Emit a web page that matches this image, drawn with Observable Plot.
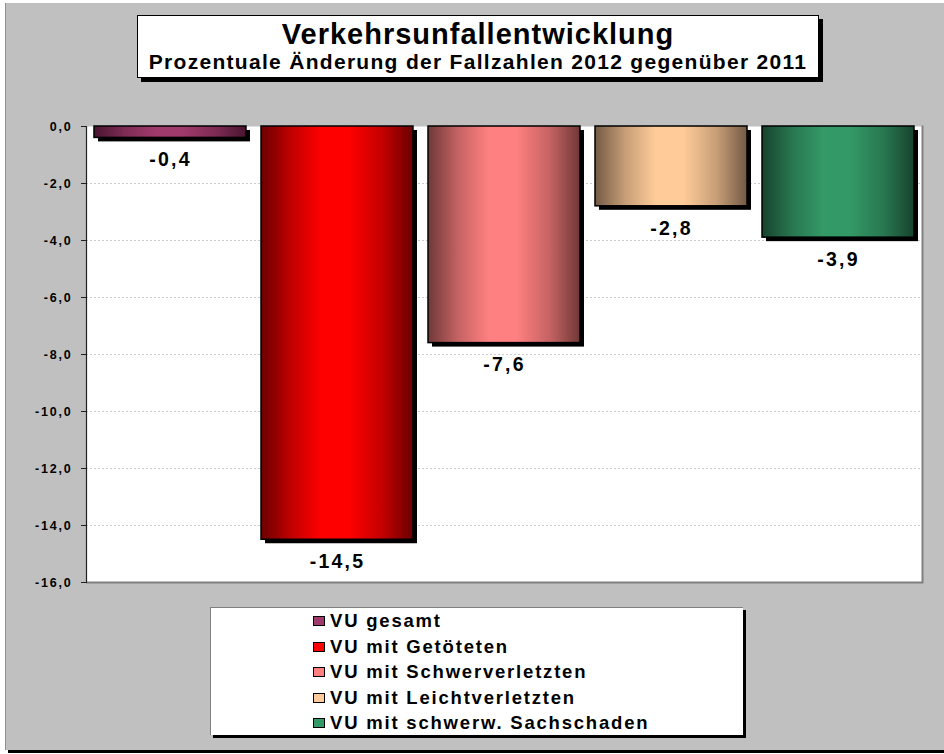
<!DOCTYPE html>
<html>
<head>
<meta charset="utf-8">
<script src="https://cdn.jsdelivr.net/npm/d3@7"></script>
<script src="https://cdn.jsdelivr.net/npm/@observablehq/plot@0.6"></script>
<style>
  html, body { margin: 0; padding: 0; background: #ffffff; }
  body { width: 944px; height: 754px; position: relative; overflow: hidden;
         font-family: Arial, "Liberation Sans", sans-serif; }
  #bg { position: absolute; left: 5px; top: 3px; width: 939px; height: 747px;
        background: #C0C0C0; border-left: 1px solid #909090; }
  #bottomline { position: absolute; left: 8px; top: 750px; width: 936px; height: 3px; background: #000; }
  #chart { position: absolute; left: 0; top: 0; }
  #titlebox { position: absolute; left: 137px; top: 15px; width: 680px; height: 61px;
              background: #fff; border: 1px solid #000; box-shadow: 4px 4px 0 #000; }
  #title1 { position: absolute; left: 0; width: 100%; top: 2px; text-align: center;
            font-weight: bold; font-size: 29px; letter-spacing: 1px; color: #000; }
  #title2 { position: absolute; left: 0; width: 100%; top: 34px; text-align: center;
            font-weight: bold; font-size: 21px; letter-spacing: 1.3px; color: #000; }
  #legend { position: absolute; left: 210px; top: 607px; width: 532px; height: 127px;
            background: #fff; border-left: 1px solid #808080; border-top: 1px solid #808080;
            box-shadow: 3px 3px 0 #000; }
  .item { position: absolute; left: 102px; height: 22px; font-weight: bold; font-size: 18.5px;
          letter-spacing: 1.8px; color: #000; white-space: nowrap; line-height: 22px; }
  .sw { display: inline-block; width: 10px; height: 8px; border: 1px solid #000;
        margin-right: 5px; vertical-align: 1px; }
  g[aria-label="text"] text { letter-spacing: 2.2px; }
  g[aria-label="y-axis tick label"] text { letter-spacing: 1.8px; }
</style>
</head>
<body>
<div id="bg"></div>
<div id="bottomline"></div>
<div id="chart"></div>
<div id="titlebox">
  <div id="title1">Verkehrsunfallentwicklung</div>
  <div id="title2">Prozentuale Änderung der Fallzahlen 2012 gegenüber 2011</div>
</div>
<div id="legend"></div>
<script>
const categories = ["VU gesamt", "VU mit Getöteten", "VU mit Schwerverletzten", "VU mit Leichtverletzten", "VU mit schwerw. Sachschaden"];
const values = [-0.4, -14.5, -7.6, -2.8, -3.9];
const lightColors = ["#A03A6C", "#FF0000", "#FF8080", "#FFCC99", "#339966"];
const darkColors = ["#4A1530", "#6A0000", "#703838", "#735A44", "#17432E"];
const yTicks = [0, -2, -4, -6, -8, -10, -12, -14, -16];
const gridTicks = [-2, -4, -6, -8, -10, -12, -14];

const data = categories.map((c, i) => ({cat: c, val: values[i], grad: `url(#grad${i})`}));
const fmt = v => v.toFixed(1).replace(".", ",");

const plot = Plot.plot({
  width: 944,
  height: 754,
  marginLeft: 86,
  marginRight: 22,
  marginTop: 126,
  marginBottom: 172,
  style: {background: "transparent", overflow: "visible", fontFamily: "Arial, 'Liberation Sans', sans-serif"},
  x: {domain: categories, paddingInner: 0.09, paddingOuter: 0.045, axis: null},
  y: {domain: [-16, 0], axis: null},
  color: {type: "identity"},
  marks: [
    Plot.frame({fill: "white", stroke: null}),
    Plot.ruleY(gridTicks, {stroke: "#bdbdbd", strokeDasharray: "2,2", strokeWidth: 0.8}),
    Plot.barY(data, {x: "cat", y: "val", fill: "black", dx: 4, dy: 4}),
    Plot.barY(data, {x: "cat", y: "val", fill: "grad", stroke: "black", strokeWidth: 1.5}),
    Plot.text(data, {x: "cat", y: "val", text: d => fmt(d.val), dy: 22, fontSize: 19.5, fontWeight: "bold", fill: "black"}),
    Plot.axisY({ticks: yTicks, tickFormat: fmt, label: null, tickSize: 5, tickPadding: 9, fontSize: 12.5, fontWeight: "bold", stroke: "#202020", fill: "black"}),
    Plot.ruleY([-16], {stroke: "#808080", strokeWidth: 2}),
    Plot.frame({anchor: "right", stroke: "#808080", strokeWidth: 2}),
    Plot.frame({anchor: "left", stroke: "#202020", strokeWidth: 1.2})
  ]
});

const svg = d3.select(plot);
const defs = svg.insert("defs", ":first-child");
categories.forEach((c, i) => {
  const g = defs.append("linearGradient").attr("id", `grad${i}`).attr("x1", "0").attr("x2", "1").attr("y1", "0").attr("y2", "0");
  const mid = d3.interpolateRgb(darkColors[i], lightColors[i])(0.6);
  g.append("stop").attr("offset", "0%").attr("stop-color", darkColors[i]);
  g.append("stop").attr("offset", "20%").attr("stop-color", mid);
  g.append("stop").attr("offset", "40%").attr("stop-color", lightColors[i]);
  g.append("stop").attr("offset", "58%").attr("stop-color", lightColors[i]);
  g.append("stop").attr("offset", "80%").attr("stop-color", mid);
  g.append("stop").attr("offset", "100%").attr("stop-color", darkColors[i]);
});
document.getElementById("chart").appendChild(plot);

const legend = document.getElementById("legend");
categories.forEach((c, i) => {
  const div = document.createElement("div");
  div.className = "item";
  div.style.top = (2 + i * 25.5) + "px";
  const sw = document.createElement("span");
  sw.className = "sw";
  sw.style.background = lightColors[i];
  div.appendChild(sw);
  div.appendChild(document.createTextNode(c));
  legend.appendChild(div);
});
</script>
</body>
</html>
